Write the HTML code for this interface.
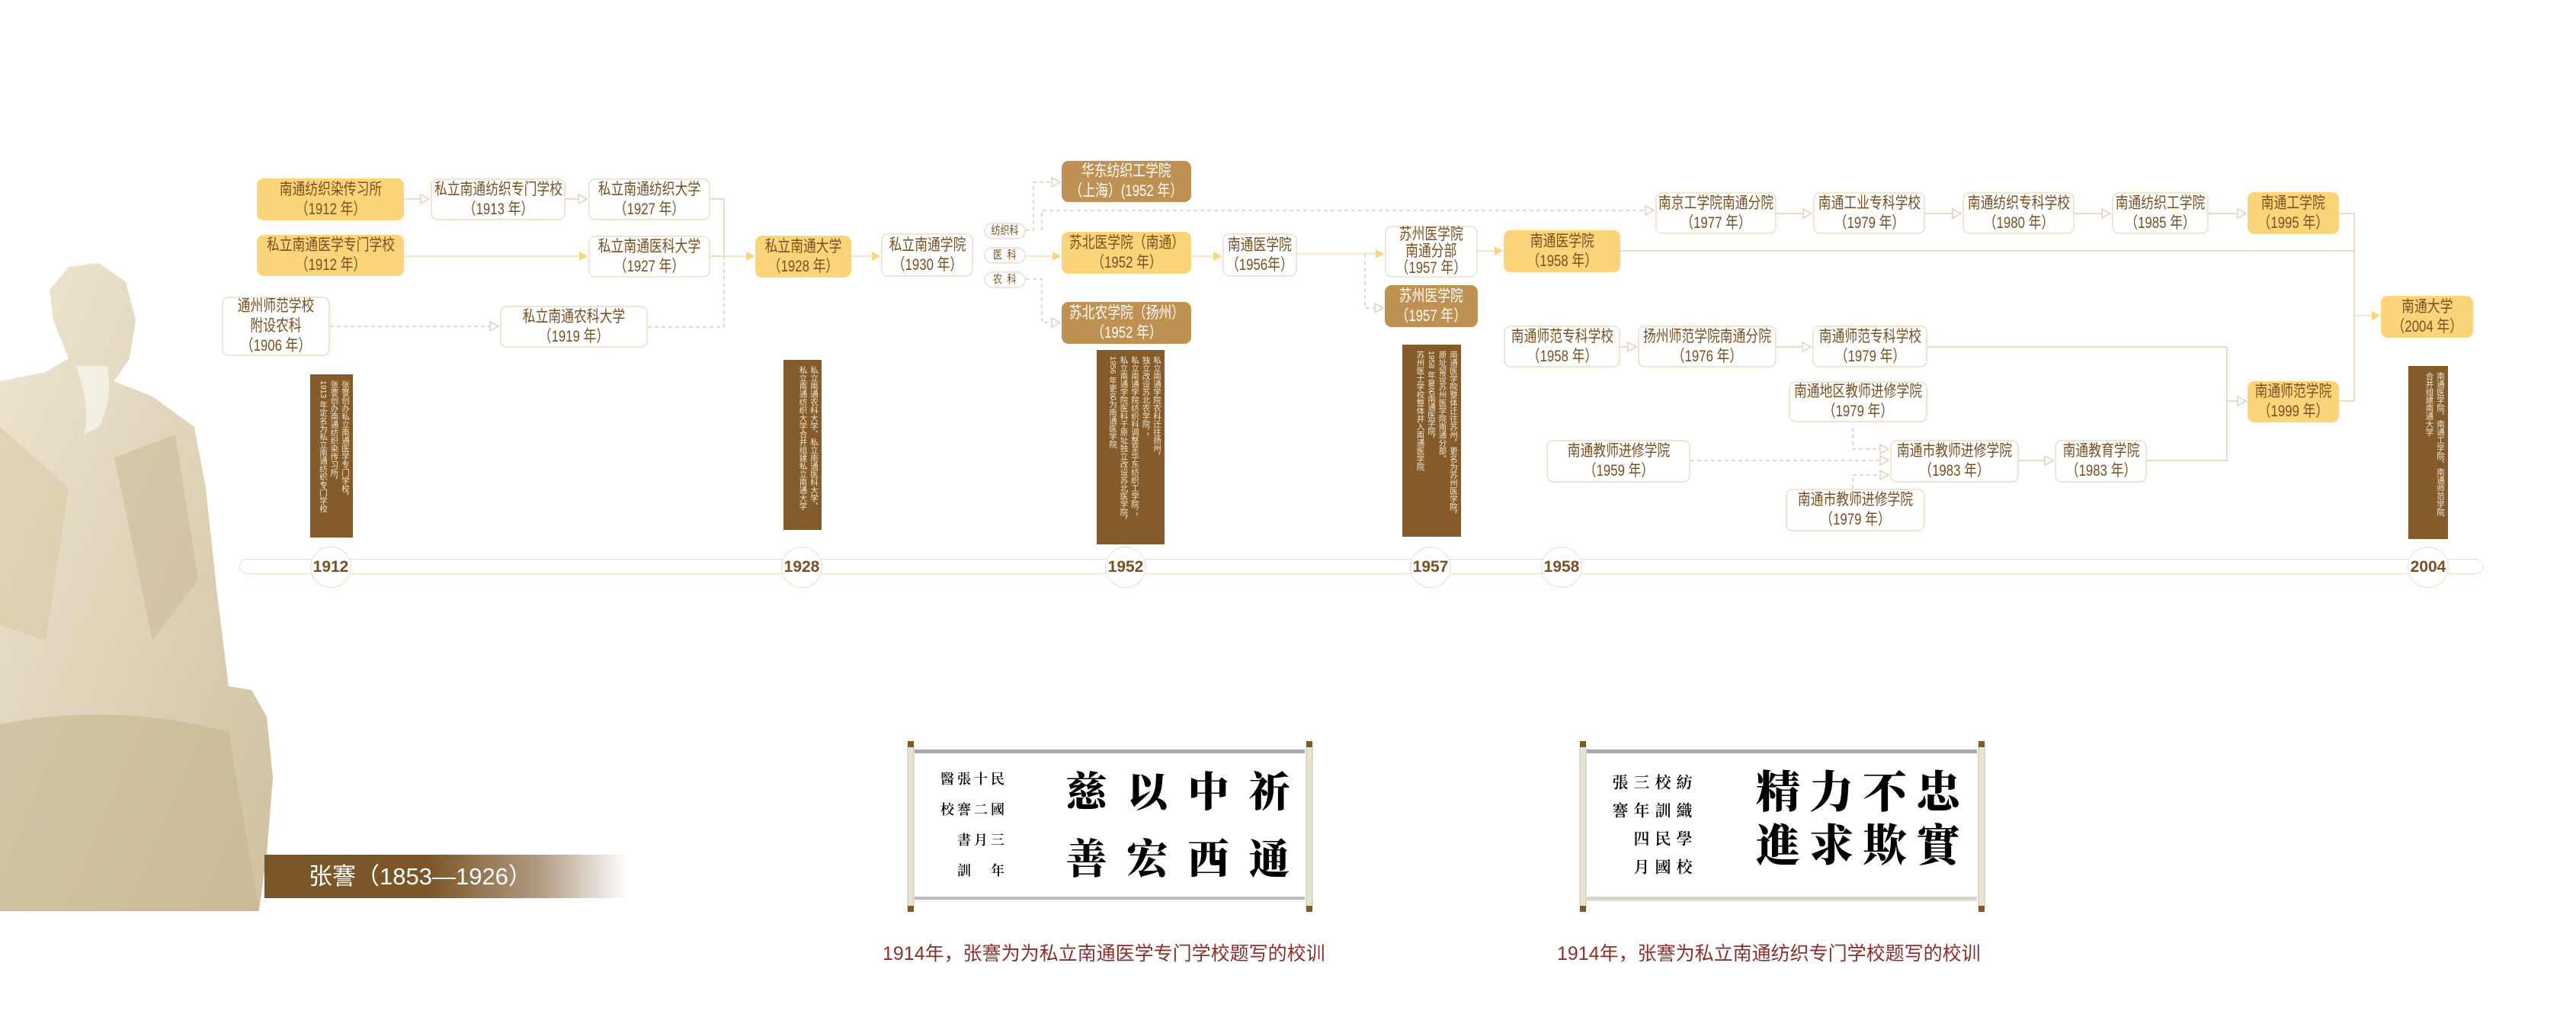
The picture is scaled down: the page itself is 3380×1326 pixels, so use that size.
<!DOCTYPE html>
<html><head><meta charset="utf-8">
<style>
html,body{margin:0;padding:0;background:#fff;}
#c{position:relative;width:3380px;height:1326px;overflow:hidden;background:#fff;font-family:"Liberation Sans","Noto Sans CJK SC",sans-serif;}
.b{position:absolute;box-sizing:border-box;display:flex;align-items:center;justify-content:center;text-align:center;font-size:21px;line-height:26px;color:#7a4f22;border-radius:9px;white-space:nowrap;}
.b>span{display:inline-block;transform:scaleX(0.8);transform-origin:center;}
.w{background:#fff;border:2px solid #efe6d8;}
.g{background:#fcd479;}
.t{background:#bf9254;color:#fff;}
.s{font-size:15px;border-radius:12px;}
.n{position:absolute;box-sizing:border-box;background:#845b2a;color:#f5e9d5;writing-mode:vertical-rl;font-size:10.5px;line-height:14.5px;padding:8px 3px;white-space:nowrap;}
.yr{position:absolute;width:54px;height:54px;border-radius:50%;background:#fff;border:1.5px solid #ecdcc8;box-sizing:border-box;display:flex;align-items:center;justify-content:center;font-weight:bold;font-size:21px;color:#7a4f22;top:717px;}
.cal{position:absolute;font-family:"Noto Serif CJK SC","WenQuanYi Zen Hei",serif;font-weight:900;color:#000;writing-mode:vertical-rl;white-space:nowrap;}
.cap{position:absolute;font-size:25px;color:#8c2f2c;white-space:nowrap;}
</style></head><body><div id="c">

<svg style="position:absolute;left:0;top:0" width="420" height="1326">
<defs><linearGradient id="st" x1="0" y1="0" x2="1" y2="1"><stop offset="0" stop-color="#efe6d2"/><stop offset="1" stop-color="#cfc0a0"/></linearGradient></defs>
<path d="M0,500 L60,488 L90,470 L70,420 L65,380 L90,350 L130,345 L165,370 L178,420 L170,470 L150,500 L200,520 L255,560 L270,640 L285,780 L300,900 L330,905 L350,940 L358,1020 L350,1120 L340,1195 L0,1195 Z" fill="url(#st)"/>
<path d="M100,480 Q120,540 110,570 L130,560 Q150,520 140,480 Z" fill="#f4efe4"/>
<path d="M0,560 L90,640 L60,840 L0,820 Z" fill="#d8caa9" opacity="0.6"/>
<path d="M150,600 L230,570 L260,760 L200,840 Z" fill="#c9b894" opacity="0.5"/>
<path d="M0,950 Q150,920 300,960 L340,1195 L0,1195 Z" fill="#c7b58f" opacity="0.6"/>
</svg>
<div style="position:absolute;left:347px;top:1121px;width:477px;height:57px;background:linear-gradient(to right,#7b5629 0%,#7b5629 45%,rgba(123,86,41,0.6) 75%,rgba(255,255,255,0) 100%);"></div>
<div style="position:absolute;left:405px;top:1128px;font-size:31px;line-height:44px;color:#fff;white-space:nowrap;">张謇（1853—1926）</div>

<svg style="position:absolute;left:0;top:0" width="3380" height="1326" fill="none">
<defs>
<marker id="a" markerWidth="12" markerHeight="12" refX="10" refY="6" orient="auto" markerUnits="userSpaceOnUse"><path d="M0,0 L11,6 L0,12 Z" fill="#fcd479"/></marker>
<marker id="o" markerWidth="14" markerHeight="14" refX="12" refY="7" orient="auto" markerUnits="userSpaceOnUse"><path d="M1,1 L12,7 L1,13 Z" fill="#fff" stroke="#dccdb8" stroke-width="1.3"/></marker>
</defs>
<g stroke="#e9dcc8" stroke-width="2">
<path d="M530,261 H563" marker-end="url(#o)"/>
<path d="M742,261 H770" marker-end="url(#o)"/>
<path d="M932,261 H950 V336"/>
<path d="M932,336 H950"/>
<path d="M2331,280 H2377" marker-end="url(#o)"/>
<path d="M2526,280 H2573" marker-end="url(#o)"/>
<path d="M2722,280 H2769" marker-end="url(#o)"/>
<path d="M2898,280 H2947" marker-end="url(#o)"/>
<path d="M3069,280 H3089 V526 H3069"/>
<path d="M2126,329 H3089"/>
<path d="M2126,455 H2147" marker-end="url(#o)"/>
<path d="M2331,455 H2376" marker-end="url(#o)"/>
<path d="M2529,455 H2922 V604 H2817"/>
<path d="M2922,526 H2947" marker-end="url(#o)"/>
<path d="M2649,604 H2694" marker-end="url(#o)"/>
</g>
<g stroke="#f6e7c6" stroke-width="2">
<path d="M530,336 H770" marker-end="url(#a)"/>
<path d="M950,336 H989" marker-end="url(#a)"/>
<path d="M1117,336 H1154" marker-end="url(#a)"/>
<path d="M1346,336 H1391" marker-end="url(#a)"/>
<path d="M1563,336 H1602" marker-end="url(#a)"/>
<path d="M1702,333 H1815" marker-end="url(#a)"/>
<path d="M1939,329 H1971" marker-end="url(#a)"/>
<path d="M3089,414 H3122" marker-end="url(#a)"/>
</g>
<g stroke="#dccdb8" stroke-width="1.5" stroke-dasharray="5,4">
<path d="M433,428 H654" marker-end="url(#o)"/>
<path d="M850,429 H950 V336"/>
<path d="M1346,302 H1356 V239 H1391" marker-end="url(#o)"/>
<path d="M1367,302 V276 H2170" marker-end="url(#o)"/>
<path d="M1346,366 H1367 V423 H1391" marker-end="url(#o)"/>
<path d="M1791,333 V404 H1815" marker-end="url(#o)"/>
<path d="M2218,604 H2478" marker-end="url(#o)"/>
<path d="M2431,561 V589 H2478" marker-end="url(#o)"/>
<path d="M2431,641 V623 H2478" marker-end="url(#o)"/>
</g>
</svg>

<div class="b g" style="left:337px;top:234px;width:193px;height:55px;"><span>南通纺织染传习所<br>（1912 年）</span></div>
<div class="b w" style="left:565px;top:234px;width:177px;height:55px;"><span>私立南通纺织专门学校<br>（1913 年）</span></div>
<div class="b w" style="left:772px;top:234px;width:160px;height:55px;"><span>私立南通纺织大学<br>（1927 年）</span></div>
<div class="b g" style="left:337px;top:308px;width:193px;height:54px;"><span>私立南通医学专门学校<br>（1912 年）</span></div>
<div class="b w" style="left:772px;top:309px;width:160px;height:55px;"><span>私立南通医科大学<br>（1927 年）</span></div>
<div class="b g" style="left:991px;top:309px;width:126px;height:55px;"><span>私立南通大学<br>（1928 年）</span></div>
<div class="b w" style="left:291px;top:389px;width:142px;height:78px;"><span>通州师范学校<br>附设农科<br>（1906 年）</span></div>
<div class="b w" style="left:656px;top:401px;width:194px;height:55px;"><span>私立南通农科大学<br>（1919 年）</span></div>
<div class="b w" style="left:1156px;top:306px;width:121px;height:57px;"><span>私立南通学院<br>（1930 年）</span></div>
<div class="b w s" style="left:1291px;top:292px;width:55px;height:22px;"><span>纺织科</span></div>
<div class="b w s" style="left:1291px;top:324px;width:55px;height:22px;"><span>医&nbsp;&nbsp;科</span></div>
<div class="b w s" style="left:1291px;top:356px;width:55px;height:22px;"><span>农&nbsp;&nbsp;科</span></div>
<div class="b t" style="left:1393px;top:211px;width:170px;height:54px;"><span>华东纺织工学院<br>（上海）(1952 年）</span></div>
<div class="b g" style="left:1393px;top:304px;width:170px;height:55px;"><span>苏北医学院（南通）<br>（1952 年）</span></div>
<div class="b t" style="left:1393px;top:396px;width:170px;height:55px;"><span>苏北农学院（扬州）<br>（1952 年）</span></div>
<div class="b w" style="left:1604px;top:306px;width:98px;height:57px;"><span>南通医学院<br>（1956年）</span></div>
<div class="b w" style="left:1817px;top:296px;width:122px;height:68px;line-height:22px;"><span>苏州医学院<br>南通分部<br>（1957 年）</span></div>
<div class="b t" style="left:1817px;top:374px;width:122px;height:55px;"><span>苏州医学院<br>（1957 年）</span></div>
<div class="b g" style="left:1973px;top:302px;width:153px;height:55px;"><span>南通医学院<br>（1958 年）</span></div>
<div class="b w" style="left:1973px;top:427px;width:153px;height:55px;"><span>南通师范专科学校<br>（1958 年）</span></div>
<div class="b w" style="left:2029px;top:577px;width:189px;height:56px;"><span>南通教师进修学院<br>（1959 年）</span></div>
<div class="b w" style="left:2172px;top:252px;width:159px;height:55px;"><span>南京工学院南通分院<br>（1977 年）</span></div>
<div class="b w" style="left:2379px;top:252px;width:147px;height:55px;"><span>南通工业专科学校<br>（1979 年）</span></div>
<div class="b w" style="left:2575px;top:252px;width:147px;height:55px;"><span>南通纺织专科学校<br>（1980 年）</span></div>
<div class="b w" style="left:2771px;top:252px;width:127px;height:55px;"><span>南通纺织工学院<br>（1985 年）</span></div>
<div class="b g" style="left:2949px;top:252px;width:120px;height:55px;"><span>南通工学院<br>（1995 年）</span></div>
<div class="b g" style="left:3124px;top:388px;width:121px;height:55px;"><span>南通大学<br>（2004 年）</span></div>
<div class="b w" style="left:2149px;top:427px;width:182px;height:55px;"><span>扬州师范学院南通分院<br>（1976 年）</span></div>
<div class="b w" style="left:2378px;top:427px;width:151px;height:55px;"><span>南通师范专科学校<br>（1979 年）</span></div>
<div class="b w" style="left:2347px;top:500px;width:182px;height:54px;"><span>南通地区教师进修学院<br>（1979 年）</span></div>
<div class="b w" style="left:2480px;top:577px;width:169px;height:56px;"><span>南通市教师进修学院<br>（1983 年）</span></div>
<div class="b w" style="left:2696px;top:577px;width:121px;height:56px;"><span>南通教育学院<br>（1983 年）</span></div>
<div class="b w" style="left:2343px;top:641px;width:183px;height:56px;"><span>南通市教师进修学院<br>（1979 年）</span></div>
<div class="b g" style="left:2949px;top:500px;width:120px;height:54px;"><span>南通师范学院<br>（1999 年）</span></div>

<div class="n" style="left:407px;top:491px;width:56px;height:214px;">张謇创办私立南通医学专门学校，<br>张謇创办南通纺织染传习所，<br>1913 年定名为私立南通纺织专门学校</div>
<div class="n" style="left:1028px;top:472px;width:50px;height:223px;">私立南通农科大学、私立南通医科大学、<br>私立南通纺织大学合并组建私立南通大学</div>
<div class="n" style="left:1439px;top:459px;width:89px;height:255px;">私立南通学院农科迁往扬州，<br>独立改设苏北农学院；<br>私立南通学院纺织科调整至华东纺织工学院；<br>私立南通学院医科于原址独立改设苏北医学院，<br>1956 年更名为南通医学院</div>
<div class="n" style="left:1840px;top:452px;width:77px;height:252px;">南通医学院整体迁往苏州，更名为苏州医学院，<br>原址留设苏州医学院南通分部。<br>1958 年复名南通医学院，<br>苏州医士学校整体并入南通医学院</div>
<div class="n" style="left:3160px;top:480px;width:52px;height:227px;">南通医学院、南通工学院、南通师范学院<br>合并组建南通大学</div>

<div style="position:absolute;left:314px;top:733px;width:2945px;height:20px;box-sizing:border-box;border:1.5px solid #ecdcc8;border-radius:10px;background:#fff;"></div>
<div class="yr" style="left:407px;">1912</div>
<div class="yr" style="left:1025px;">1928</div>
<div class="yr" style="left:1450px;">1952</div>
<div class="yr" style="left:1850px;">1957</div>
<div class="yr" style="left:2022px;">1958</div>
<div class="yr" style="left:3159px;">2004</div>

<svg style="position:absolute;left:0;top:0" width="3380" height="1326">
<g>
<rect x="1198" y="984" width="516" height="198" fill="#fff" stroke="#eee"/>
<rect x="1200" y="983" width="512" height="5" fill="#a9a9a9"/>
<rect x="1200" y="1176" width="512" height="4" fill="#bdbdbd"/>
<rect x="1191" y="978" width="8" height="212" fill="#e9e3d3" stroke="#c8bfa8"/>
<rect x="1714" y="978" width="8" height="212" fill="#e9e3d3" stroke="#c8bfa8"/>
<rect x="1191" y="972" width="8" height="8" fill="#7d5c2c"/><rect x="1714" y="972" width="8" height="8" fill="#7d5c2c"/>
<rect x="1191" y="1188" width="8" height="8" fill="#7d5c2c"/><rect x="1714" y="1188" width="8" height="8" fill="#7d5c2c"/>
</g>
<g>
<rect x="2080" y="984" width="516" height="198" fill="#fff" stroke="#eee"/>
<rect x="2082" y="983" width="512" height="5" fill="#a9a9a9"/>
<rect x="2082" y="1176" width="512" height="5" fill="#d8d4c8"/>
<rect x="2073" y="978" width="8" height="212" fill="#e9e3d3" stroke="#c8bfa8"/>
<rect x="2596" y="978" width="8" height="212" fill="#e9e3d3" stroke="#c8bfa8"/>
<rect x="2073" y="972" width="8" height="8" fill="#7d5c2c"/><rect x="2596" y="972" width="8" height="8" fill="#7d5c2c"/>
<rect x="2073" y="1188" width="8" height="8" fill="#7d5c2c"/><rect x="2596" y="1188" width="8" height="8" fill="#7d5c2c"/>
</g>
</svg>
<div class="cal" style="left:1385px;top:1010px;font-size:54px;line-height:80px;letter-spacing:34px;">祈通<br>中西<br>以宏<br>慈善</div>
<div class="cal" style="left:1232px;top:1012px;font-size:18px;line-height:22px;letter-spacing:22px;font-weight:600;">民國三年<br>十二月<br>張謇書訓<br>醫校</div>
<div class="cal" style="left:2298px;top:1008px;font-size:58px;line-height:70px;letter-spacing:12px;">忠實<br>不欺<br>力求<br>精進</div>
<div class="cal" style="left:2112px;top:1015px;font-size:21px;line-height:28px;letter-spacing:16px;font-weight:600;">紡織學校<br>校訓民國<br>三年四月<br>張謇</div>
<div class="cap" style="left:1158px;top:1231px;">1914年，张謇为为私立南通医学专门学校题写的校训</div>
<div class="cap" style="left:2043px;top:1231px;">1914年，张謇为私立南通纺织专门学校题写的校训</div>

</div></body></html>
